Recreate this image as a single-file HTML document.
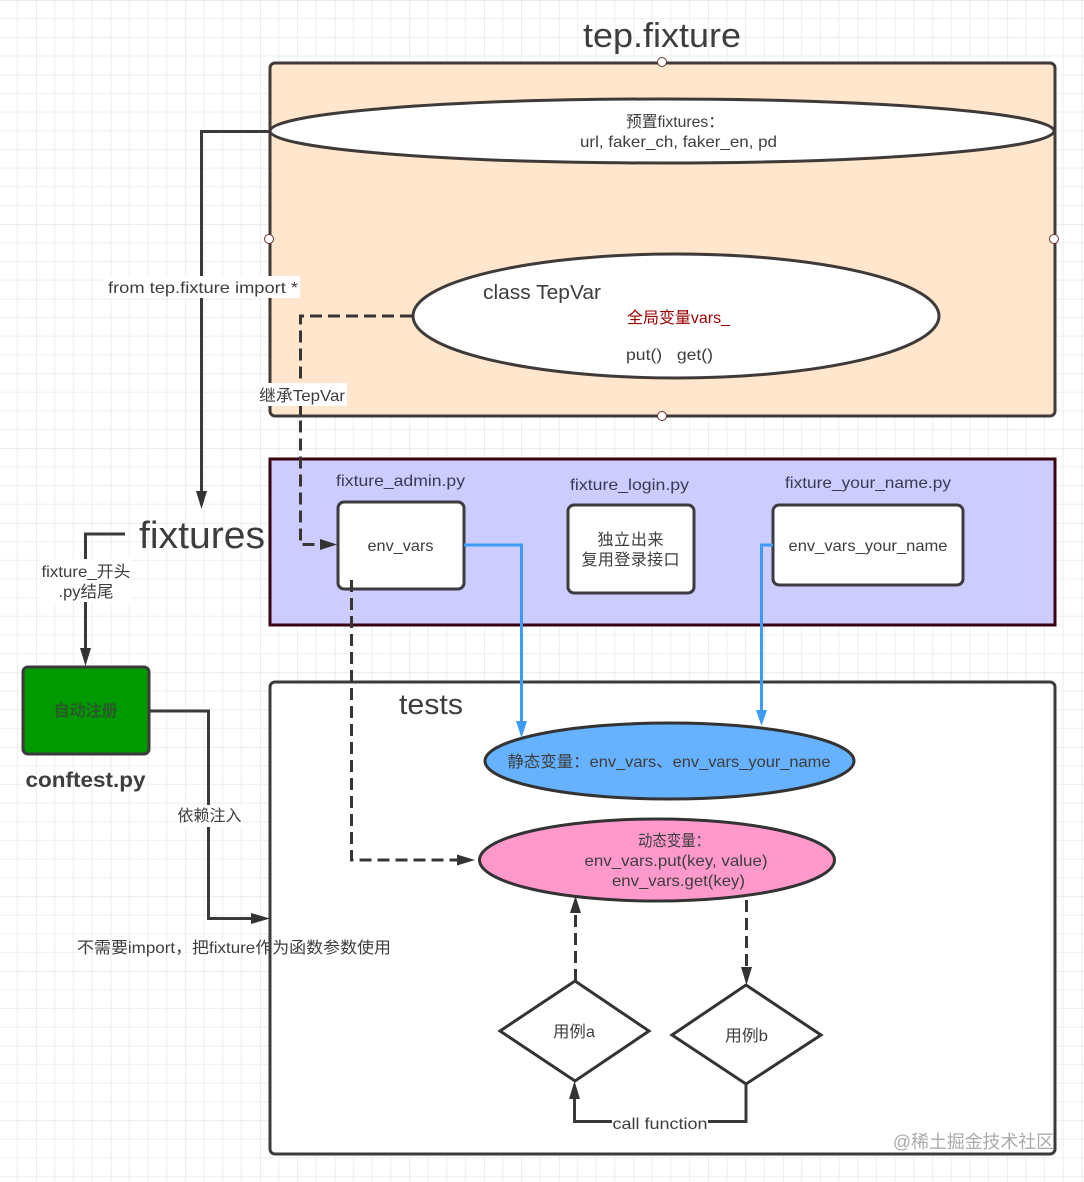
<!DOCTYPE html>
<html><head><meta charset="utf-8"><style>
html,body{margin:0;padding:0;background:#fff;width:1084px;height:1182px;overflow:hidden}
svg{display:block}
text{font-family:"Liberation Sans","Noto Sans CJK SC",sans-serif;fill:#3d3d3d;font-size:16px}
.m{text-anchor:middle}
</style></head><body>
<svg width="1084" height="1182" viewBox="0 0 1084 1182" xmlns="http://www.w3.org/2000/svg">
<defs>
<pattern id="g" x="36" y="0" width="74.7" height="74.7" patternUnits="userSpaceOnUse">
<path d="M0 18.68H74.7M0 37.35H74.7M0 56H74.7M18.68 0V74.7M37.35 0V74.7M56 0V74.7" stroke="#eeeeee" stroke-width="1" fill="none"/>
<path d="M0 0H74.7M0 0V74.7" stroke="#e2e2e2" stroke-width="1.2" fill="none"/>
</pattern>
</defs>
<rect width="1084" height="1182" fill="#fff"/>
<rect width="1084" height="1182" fill="url(#g)"/>

<rect x="270" y="63" width="785" height="353" rx="5" fill="#ffe6cc" stroke="#3f3a38" stroke-width="3"/>
<rect x="270" y="459" width="785" height="166" fill="#ccccff" stroke="#3a0010" stroke-width="3"/>
<rect x="270" y="682" width="785" height="472" rx="5" fill="#fff" stroke="#3b3b3b" stroke-width="3"/>

<g fill="#fff" stroke="#6b3030" stroke-width="1">
<circle cx="662" cy="62" r="4.5"/><circle cx="269" cy="239" r="4.5"/><circle cx="1054" cy="239" r="4.5"/><circle cx="662" cy="416" r="4.5"/>
</g>

<ellipse cx="662" cy="131" rx="392" ry="32" fill="#fff" stroke="#3f3a38" stroke-width="3"/>
<ellipse cx="676" cy="316" rx="263" ry="62" fill="#fff" stroke="#3f3a38" stroke-width="3"/>

<rect x="338" y="502" width="126" height="87" rx="6" fill="#fff" stroke="#3b3b40" stroke-width="3"/>
<rect x="568" y="505" width="126" height="88" rx="6" fill="#fff" stroke="#3b3b40" stroke-width="3"/>
<rect x="773" y="505" width="190" height="80" rx="6" fill="#fff" stroke="#3b3b40" stroke-width="3"/>
<rect x="23" y="667" width="126" height="87" rx="5" fill="#009900" stroke="#3b3b3b" stroke-width="3"/>

<ellipse cx="669.500" cy="761" rx="184.500" ry="38" fill="#66b2ff" stroke="#333" stroke-width="3"/>
<ellipse cx="657" cy="860" rx="177.500" ry="41" fill="#ff99cc" stroke="#333" stroke-width="3"/>

<polygon points="575,981 649,1031 575,1081 500,1031" fill="#fff" stroke="#333" stroke-width="3"/>
<polygon points="746,985 821,1035 746,1084 672,1035" fill="#fff" stroke="#333" stroke-width="3"/>

<!-- solid connectors -->
<g fill="none" stroke="#3a3a3a" stroke-width="3">
<path d="M270 131.500H201.500V495"/>
<path d="M125 534H85.500V652"/>
<path d="M149 711H208.500V918.500H256"/>
<path d="M746 1084V1121.500H574.500V1094"/>
</g>
<g fill="#333">
<polygon points="201.500,509 196,491 207,491"/>
<polygon points="85.500,666 80,648 91,648"/>
<polygon points="270,918.500 251,913 251,924"/>
<polygon points="574.500,1081 569,1099 580,1099"/>
</g>

<!-- dashed connectors -->
<g fill="none" stroke="#3a3535" stroke-width="3" stroke-dasharray="12 6">
<path d="M412 316H300.500V544.500H324"/>
<path d="M351.500 580V860H462"/>
<path d="M575.500 981V910"/>
<path d="M746.500 900V970"/>
</g>
<g fill="#333">
<polygon points="337,544.500 320,539 320,550"/>
<polygon points="475,860 457,854.500 457,865.500"/>
<polygon points="575.500,896 570,913 581,913"/>
<polygon points="746.500,985 741,967 752,967"/>
</g>

<!-- blue connectors -->
<g fill="none" stroke="#3d9bf5" stroke-width="3">
<path d="M464 545H521.500V724"/>
<path d="M773 545H761.500V714"/>
</g>
<g fill="#3d9bf5">
<polygon points="521.500,738 516,721 527,721"/>
<polygon points="761.500,726 756,710 767,710"/>
</g>

<!-- label backgrounds -->
<g fill="#fff">
<rect x="104" y="276" width="196" height="22"/>
<rect x="258" y="383" width="89" height="23"/>
<rect x="40" y="559" width="92" height="43"/>
<rect x="176" y="805" width="67" height="22"/>
<rect x="612" y="1112" width="96" height="20"/>
</g>

<!-- text -->
<text x="662" y="47" class="m" style="font-size:34px" textLength="158" lengthAdjust="spacingAndGlyphs">tep.fixture</text>
<text x="675" y="127" class="m" textLength="98" lengthAdjust="spacingAndGlyphs">预置fixtures：</text>
<text x="678.500" y="147" class="m" textLength="197" lengthAdjust="spacingAndGlyphs">url, faker_ch, faker_en, pd</text>
<text x="483" y="299" style="font-size:20px" textLength="118" lengthAdjust="spacingAndGlyphs">class TepVar</text>
<text x="627" y="323" style="fill:#990000" textLength="103" lengthAdjust="spacingAndGlyphs">全局变量vars_</text>
<text x="626" y="360" textLength="87" lengthAdjust="spacingAndGlyphs" xml:space="preserve">put()   get()</text>
<text x="108" y="293" textLength="190" lengthAdjust="spacingAndGlyphs">from tep.fixture import *</text>
<text x="259" y="401" textLength="86" lengthAdjust="spacingAndGlyphs">继承TepVar</text>
<text x="139" y="548" style="font-size:38px" textLength="126" lengthAdjust="spacingAndGlyphs">fixtures</text>
<text x="336" y="486" textLength="129" lengthAdjust="spacingAndGlyphs" style="fill:#3a3a55">fixture_admin.py</text>
<text x="570" y="490" textLength="119" lengthAdjust="spacingAndGlyphs" style="fill:#3a3a55">fixture_login.py</text>
<text x="785" y="488" textLength="166" lengthAdjust="spacingAndGlyphs" style="fill:#3a3a55">fixture_your_name.py</text>
<text x="400.500" y="551" class="m" textLength="66" lengthAdjust="spacingAndGlyphs">env_vars</text>
<text x="630.500" y="545" class="m" textLength="66">独立出来</text>
<text x="630.500" y="565" class="m" textLength="98">复用登录接口</text>
<text x="868" y="551" class="m" textLength="159" lengthAdjust="spacingAndGlyphs">env_vars_your_name</text>
<text x="86" y="577" class="m" textLength="89" lengthAdjust="spacingAndGlyphs">fixture_开头</text>
<text x="86" y="597" class="m" textLength="55" lengthAdjust="spacingAndGlyphs">.py结尾</text>
<text x="85.500" y="716" class="m" style="font-weight:bold;fill:#2a5a2a" textLength="64">自动注册</text>
<text x="85.500" y="787" class="m" style="font-size:21px;font-weight:bold" textLength="120" lengthAdjust="spacingAndGlyphs">conftest.py</text>
<text x="399" y="714" style="font-size:29px" textLength="64" lengthAdjust="spacingAndGlyphs">tests</text>
<text x="669" y="767" class="m" textLength="323" lengthAdjust="spacingAndGlyphs">静态变量：env_vars、env_vars_your_name</text>
<text x="674" y="846" class="m" textLength="72" lengthAdjust="spacingAndGlyphs">动态变量：</text>
<text x="676" y="866" class="m" textLength="183" lengthAdjust="spacingAndGlyphs">env_vars.put(key, value)</text>
<text x="678.500" y="886" class="m" textLength="133" lengthAdjust="spacingAndGlyphs">env_vars.get(key)</text>
<text x="209.500" y="821" class="m" textLength="64">依赖注入</text>
<text x="77" y="953" textLength="314" lengthAdjust="spacingAndGlyphs">不需要import，把fixture作为函数参数使用</text>
<text x="574" y="1037" class="m" textLength="42" lengthAdjust="spacingAndGlyphs">用例a</text>
<text x="746.500" y="1041" class="m" textLength="43" lengthAdjust="spacingAndGlyphs">用例b</text>
<text x="660" y="1129" class="m" textLength="95" lengthAdjust="spacingAndGlyphs">call function</text>
<text x="893" y="1148" style="font-size:18px;fill:#aaa" textLength="161" lengthAdjust="spacingAndGlyphs">@稀土掘金技术社区</text>
</svg>
</body></html>
